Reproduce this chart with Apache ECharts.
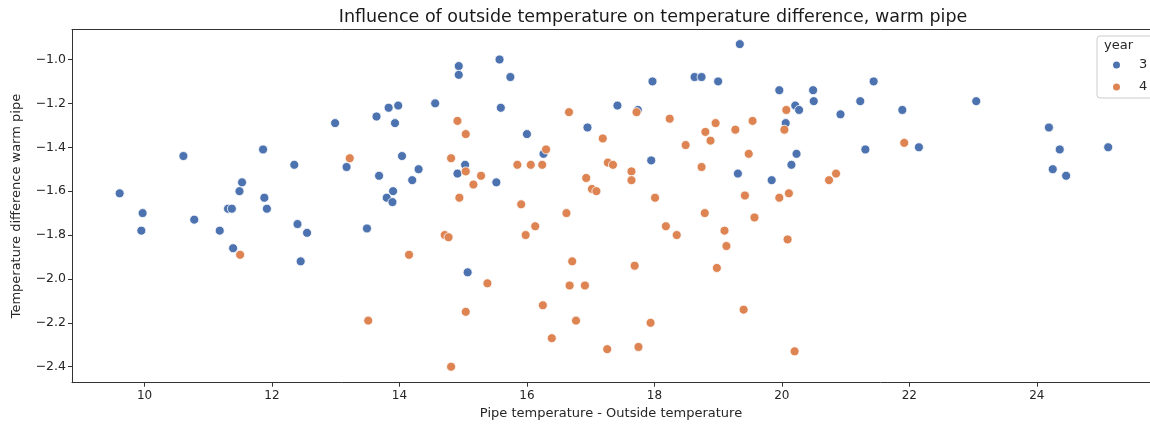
<!DOCTYPE html>
<html>
<head>
<meta charset="utf-8">
<script src="https://cdn.jsdelivr.net/npm/echarts@6/dist/echarts.min.js"></script>
<style>
  html, body { margin: 0; padding: 0; background: #fff; }
  #chart { width: 1150px; height: 425px; }
</style>
</head>
<body>
<div id="chart"></div>
<script>
// Pipe temperature minus outside temperature (x) vs. temperature difference of the warm pipe (y)
const year3X = [9.61, 9.97, 9.95, 10.61, 10.78, 11.18, 11.31, 11.37, 11.39, 11.49,
  11.53, 11.86, 11.88, 11.92, 12.35, 12.40, 12.45, 12.55, 12.99, 13.17,
  13.49, 13.64, 13.68, 13.80, 13.83, 13.90, 13.89, 13.93, 13.98, 14.04,
  14.20, 14.30, 14.56, 14.91, 14.93, 14.93, 15.03, 15.07, 15.52, 15.57,
  15.59, 15.74, 16.00, 16.26, 16.95, 17.42, 17.74, 17.95, 17.97, 18.63,
  18.74, 19.00, 19.31, 19.34, 19.84, 19.96, 20.06, 20.15, 20.21, 20.23,
  20.27, 20.49, 20.50, 20.92, 21.23, 21.31, 21.44, 21.89, 22.15, 23.05,
  24.19, 24.25, 24.36, 24.46, 25.12];
const year3Y = [-1.61, -1.70, -1.78, -1.44, -1.73, -1.78, -1.68, -1.68, -1.86, -1.60,
  -1.56, -1.41, -1.63, -1.68, -1.48, -1.75, -1.92, -1.79, -1.29, -1.49,
  -1.77, -1.26, -1.53, -1.63, -1.22, -1.60, -1.65, -1.29, -1.21, -1.44,
  -1.55, -1.50, -1.20, -1.52, -1.03, -1.07, -1.48, -1.97, -1.56, -1.00,
  -1.22, -1.08, -1.34, -1.43, -1.31, -1.21, -1.23, -1.46, -1.10, -1.08,
  -1.08, -1.10, -1.52, -0.93, -1.55, -1.14, -1.29, -1.48, -1.21, -1.43,
  -1.23, -1.14, -1.19, -1.25, -1.19, -1.41, -1.10, -1.23, -1.40, -1.19,
  -1.31, -1.50, -1.41, -1.53, -1.40];

const year4X = [11.50, 13.22, 13.51, 14.15, 14.71, 14.77, 14.81, 14.81, 14.91, 14.94,
  15.04, 15.04, 15.04, 15.16, 15.28, 15.38, 15.85, 15.91, 15.98, 16.06,
  16.13, 16.24, 16.25, 16.30, 16.39, 16.62, 16.66, 16.67, 16.71, 16.77,
  16.91, 16.93, 17.02, 17.09, 17.19, 17.26, 17.27, 17.35, 17.64, 17.64,
  17.69, 17.72, 17.75, 17.94, 18.01, 18.18, 18.24, 18.35, 18.49, 18.74,
  18.79, 18.80, 18.88, 18.96, 18.98, 19.10, 19.13, 19.27, 19.40, 19.42,
  19.48, 19.54, 19.57, 19.96, 20.04, 20.07, 20.09, 20.11, 20.20, 20.74,
  20.85, 21.92];
const year4Y = [-1.89, -1.45, -2.19, -1.89, -1.80, -1.81, -1.45, -2.40, -1.28, -1.63,
  -1.34, -1.51, -2.15, -1.57, -1.53, -2.02, -1.48, -1.66, -1.80, -1.48,
  -1.76, -1.48, -2.12, -1.41, -2.27, -1.70, -1.24, -2.03, -1.92, -2.19,
  -2.03, -1.54, -1.59, -1.60, -1.36, -2.32, -1.47, -1.48, -1.51, -1.55,
  -1.94, -1.24, -2.31, -2.20, -1.63, -1.76, -1.27, -1.80, -1.39, -1.49,
  -1.70, -1.33, -1.37, -1.29, -1.95, -1.78, -1.85, -1.32, -2.14, -1.62,
  -1.43, -1.28, -1.72, -1.63, -1.32, -1.23, -1.82, -1.61, -2.33, -1.55,
  -1.52, -1.38];

const xTicks = [10, 12, 14, 16, 18, 20, 22, 24];
const yTicks = [-2.4, -2.2, -2.0, -1.8, -1.6, -1.4, -1.2, -1.0];
const yearNames = ['3', '4'];

const FONT = 'DejaVu Sans';
const INK = '#262626';
const SPINE = '#333333';
const colors = ['#4C72B0', '#DD8452'];

function zip(xs, ys) { return xs.map((x, i) => [x, ys[i]]); }
function minus(s) { return s.replace('-', '\u2212'); }

const chart = echarts.init(document.getElementById('chart'), null, { renderer: 'canvas' });

const scatterStyle = (c) => ({
  color: c, borderColor: '#ffffff', borderWidth: 0.8, opacity: 1
});

chart.setOption({
  animation: false,
  backgroundColor: '#ffffff',
  textStyle: { fontFamily: FONT },
  title: {
    text: 'Influence of outside temperature on temperature difference, warm pipe',
    left: 648, top: 3, textAlign: 'center',
    textStyle: { fontFamily: FONT, fontSize: 17.5, fontWeight: 'normal', color: '#1a1a1a' }
  },
  grid: { left: 72, top: 29.5, right: -1, bottom: 42.3, containLabel: false },
  legend: {
    orient: 'vertical', left: 1097, top: 36,
    data: yearNames,
    icon: 'circle', itemWidth: 9, itemHeight: 9, itemGap: 8,
    padding: [22, 30, 4, 14],
    backgroundColor: 'rgba(255,255,255,0.85)',
    borderColor: '#cccccc', borderWidth: 1, borderRadius: 3,
    textStyle: { fontFamily: FONT, fontSize: 13, color: INK, padding: [0, 0, 0, 13], lineHeight: 14 }
  },
  graphic: [{
    type: 'text', left: 1104, top: 39, z: 100,
    style: { text: 'year', font: '13px "DejaVu Sans"', fill: INK }
  }],
  xAxis: [{
    type: 'value', min: 8.862, max: 25.776,
    name: 'Pipe temperature - Outside temperature', nameLocation: 'middle', nameGap: 24,
    nameTextStyle: { fontFamily: FONT, fontSize: 13, color: INK },
    axisLine: { show: true, lineStyle: { color: SPINE, width: 1 } },
    axisTick: { show: true, length: 4, lineStyle: { color: SPINE }, customValues: xTicks },
    axisLabel: { show: true, margin: 7, fontFamily: FONT, fontSize: 12, color: INK,
      customValues: xTicks, formatter: (v) => String(Math.round(v)) },
    splitLine: { show: false }
  }, {
    type: 'value', position: 'top', min: 8.862, max: 25.776,
    axisLine: { show: true, lineStyle: { color: SPINE, width: 1 } },
    axisTick: { show: false }, axisLabel: { show: false }, splitLine: { show: false }
  }],
  yAxis: {
    type: 'value', min: -2.4729, max: -0.8634,
    name: 'Temperature difference warm pipe', nameLocation: 'middle', nameGap: 49,
    nameTextStyle: { fontFamily: FONT, fontSize: 13, color: INK },
    axisLine: { show: true, lineStyle: { color: SPINE, width: 1 } },
    axisTick: { show: true, length: 4, lineStyle: { color: SPINE }, customValues: yTicks },
    axisLabel: { show: true, margin: 6, fontFamily: FONT, fontSize: 12.5, color: INK,
      customValues: yTicks, formatter: (v) => minus(v.toFixed(1)) },
    splitLine: { show: false }
  },
  series: [{
    name: yearNames[0], type: 'scatter', xAxisIndex: 0,
    data: zip(year3X, year3Y), symbolSize: 9,
    itemStyle: scatterStyle(colors[0])
  }, {
    name: yearNames[1], type: 'scatter', xAxisIndex: 0,
    data: zip(year4X, year4Y), symbolSize: 9,
    itemStyle: scatterStyle(colors[1])
  }]
});
</script>
</body>
</html>
